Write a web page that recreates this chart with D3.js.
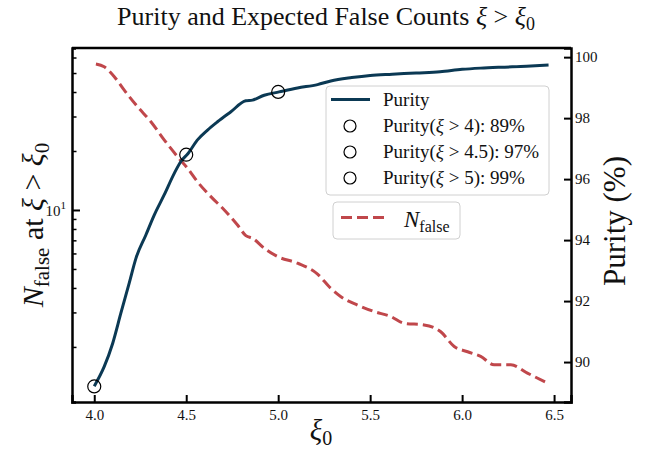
<!DOCTYPE html>
<html>
<head>
<meta charset="utf-8">
<script src="https://cdn.jsdelivr.net/npm/d3@7"></script>
<style>
  body { margin: 0; background: #fff; }
  svg text { font-family: "Liberation Serif", "DejaVu Serif", serif; fill: #111; }
</style>
</head>
<body>
<div id="chart"></div>
<script>
// purity curve (xi0, purity %)
var purityXi = [4.00, 4.054, 4.10, 4.145, 4.19, 4.227, 4.28, 4.326, 4.38, 4.435, 4.47, 4.51, 4.56, 4.616, 4.67, 4.743, 4.824, 4.86, 4.924, 5.005, 5.105, 5.214, 5.286, 5.40, 5.50, 5.62, 5.75, 5.88, 6.00, 6.10, 6.21, 6.35, 6.47];
var purityVal = [89.21, 89.85, 90.61, 91.61, 92.59, 93.41, 94.16, 94.82, 95.48, 96.19, 96.57, 96.84, 97.28, 97.61, 97.88, 98.21, 98.57, 98.59, 98.75, 98.86, 98.99, 99.10, 99.22, 99.33, 99.40, 99.44, 99.48, 99.52, 99.60, 99.64, 99.67, 99.70, 99.74];

// expected false counts (xi0, N_false)
var falseXi = [4.009, 4.054, 4.109, 4.163, 4.236, 4.308, 4.38, 4.453, 4.508, 4.562, 4.634, 4.707, 4.779, 4.824, 4.861, 4.924, 4.997, 5.105, 5.214, 5.286, 5.341, 5.432, 5.522, 5.612, 5.685, 5.793, 5.884, 5.957, 6.03, 6.101, 6.174, 6.265, 6.355, 6.455];
var falseVal = [55.6, 53.8, 47.9, 40.9, 33.6, 28.2, 22.8, 18.7, 16.3, 13.9, 11.7, 10.0, 8.38, 7.40, 7.17, 6.38, 5.78, 5.35, 4.71, 3.98, 3.61, 3.27, 3.03, 2.86, 2.64, 2.59, 2.39, 2.01, 1.89, 1.79, 1.62, 1.62, 1.47, 1.32];

// marked purity thresholds
var markXi = [4.0, 4.5, 5.0];
var markPurity = [89.2, 96.8, 98.86];
var markThr = ["4", "4.5", "5"];
var markLabel = ["89%", "97%", "99%"];

var xTicks = [4.0, 4.5, 5.0, 5.5, 6.0, 6.5];
var purityTicks = [90, 92, 94, 96, 98, 100];

var blue = "#0b3954", red = "#c0474b";

var W = 650, H = 452;
var margin = {top: 48, right: 79, bottom: 50, left: 72},
  width = W - margin.left - margin.right,
  height = H - margin.top - margin.bottom;

var svg = d3.select("#chart").append("svg")
  .attr("width", W).attr("height", H);

var g = svg.append("g")
  .attr("transform", "translate(" + margin.left + "," + margin.top + ")");

var x = d3.scaleLinear().domain([3.879, 6.592]).range([0, width]);
var yN = d3.scaleLog().domain([1.047, 67.1]).range([height, 0]);
var yP = d3.scaleLinear().domain([88.69, 100.3]).range([height, 0]);

var purity = purityXi.map((d, i) => ({x: d, y: purityVal[i]}));
var nfalse = falseXi.map((d, i) => ({x: d, y: falseVal[i]}));

// red dashed N_false
g.append("path")
  .datum(nfalse)
  .attr("fill", "none")
  .attr("stroke", red)
  .attr("stroke-width", 3)
  .attr("stroke-dasharray", "11,5")
  .attr("d", d3.line().curve(d3.curveMonotoneX).x(d => x(d.x)).y(d => yN(d.y)));

// purity line
g.append("path")
  .datum(purity)
  .attr("fill", "none")
  .attr("stroke", blue)
  .attr("stroke-width", 3)
  .attr("d", d3.line().curve(d3.curveMonotoneX).x(d => x(d.x)).y(d => yP(d.y)));

// markers
g.selectAll(".mark")
  .data(markXi)
  .enter().append("circle")
  .attr("cx", d => x(d))
  .attr("cy", (d, i) => yP(markPurity[i]))
  .attr("r", 6.5)
  .attr("fill", "none")
  .attr("stroke", "#000")
  .attr("stroke-width", 1.2);

// axes
var xAxis = g.append("g")
  .attr("transform", "translate(0," + height + ")")
  .call(d3.axisBottom(x).tickValues(xTicks).tickFormat(d3.format(".1f")).tickSize(-7).tickPadding(7.5));

var logTicks = yN.ticks();
var isMajor = d => Math.abs(Math.log10(d) - Math.round(Math.log10(d))) < 1e-9;
var leftAxis = g.append("g")
  .call(d3.axisLeft(yN).tickValues(logTicks).tickFormat("").tickSize(-4));
leftAxis.selectAll(".tick line")
  .attr("x2", d => isMajor(d) ? 8 : 4.5)
  .attr("stroke-width", d => isMajor(d) ? 2 : 1.5);

var rightAxis = g.append("g")
  .attr("transform", "translate(" + width + ",0)")
  .call(d3.axisRight(yP).tickValues(purityTicks).tickSize(-7).tickPadding(4));

[xAxis, leftAxis, rightAxis].forEach(function (a) {
  a.select(".domain").attr("stroke", "#000").attr("stroke-width", 2.5);
  a.selectAll(".tick text").style("font-size", "15px")
    .style("font-family", "\"Liberation Serif\", serif").attr("fill", "#111");
});
xAxis.selectAll(".tick line").attr("stroke-width", 2);
rightAxis.selectAll(".tick line").attr("stroke-width", 2);

// top border
g.append("line").attr("x1", 0).attr("x2", width).attr("y1", 0).attr("y2", 0)
  .attr("stroke", "#000").attr("stroke-width", 2.5);

// 10^1 label
var lbl = g.append("text")
  .attr("x", -6).attr("y", yN(10) + 6)
  .attr("text-anchor", "end")
  .style("font-size", "15px");
lbl.append("tspan").text("10");
lbl.append("tspan").attr("dy", -7).style("font-size", "11px").text("1");

// title
var title = svg.append("text")
  .attr("x", 326).attr("y", 25)
  .attr("text-anchor", "middle")
  .style("font-size", "26px");
title.append("tspan").text("Purity and Expected False Counts ");
title.append("tspan").style("font-style", "italic").text("ξ");
title.append("tspan").text(" > ");
title.append("tspan").style("font-style", "italic").text("ξ");
title.append("tspan").attr("dy", 5).style("font-size", "18px").text("0");

// x label
var xl = svg.append("text")
  .attr("x", 321).attr("y", 440)
  .attr("text-anchor", "middle")
  .style("font-size", "29px");
xl.append("tspan").style("font-style", "italic").text("ξ");
xl.append("tspan").attr("dy", 5).style("font-size", "20px").text("0");

// left y label
var yl = svg.append("text")
  .attr("transform", "translate(43," + (margin.top + height / 2) + ") rotate(-90)")
  .attr("text-anchor", "middle")
  .style("font-size", "30px");
yl.append("tspan").style("font-style", "italic").text("N");
yl.append("tspan").attr("dy", 6).style("font-size", "21px").text("false");
yl.append("tspan").attr("dy", -6).text(" at ");
yl.append("tspan").style("font-style", "italic").text("ξ");
yl.append("tspan").text(" > ");
yl.append("tspan").style("font-style", "italic").text("ξ");
yl.append("tspan").attr("dy", 6).style("font-size", "21px").text("0");

// right y label
svg.append("text")
  .attr("transform", "translate(625,221) rotate(-90)")
  .attr("text-anchor", "middle")
  .style("font-size", "31px")
  .text("Purity (%)");

// legend 1
var leg = svg.append("g");
leg.append("rect")
  .attr("x", 326).attr("y", 86).attr("width", 223).attr("height", 109)
  .attr("rx", 4).attr("fill", "#fff").attr("fill-opacity", 0.85)
  .attr("stroke", "#d0d0d0").attr("stroke-width", 1);
leg.append("line")
  .attr("x1", 331).attr("x2", 370).attr("y1", 99.5).attr("y2", 99.5)
  .attr("stroke", blue).attr("stroke-width", 3);
leg.append("text").attr("x", 383).attr("y", 105.5).style("font-size", "19px").text("Purity");

markThr.forEach(function (t, i) {
  var cy = 126 + i * 26;
  leg.append("circle").attr("cx", 350).attr("cy", cy).attr("r", 6)
    .attr("fill", "none").attr("stroke", "#000").attr("stroke-width", 1.2);
  var tx = leg.append("text").attr("x", 383).attr("y", cy + 6).style("font-size", "19px");
  tx.append("tspan").text("Purity(");
  tx.append("tspan").style("font-style", "italic").text("ξ");
  tx.append("tspan").text(" > " + t + "): " + markLabel[i]);
});

// legend 2
var leg2 = svg.append("g");
leg2.append("rect")
  .attr("x", 333).attr("y", 202).attr("width", 127).attr("height", 37)
  .attr("rx", 4).attr("fill", "#fff").attr("fill-opacity", 0.85)
  .attr("stroke", "#d0d0d0").attr("stroke-width", 1);
leg2.append("line")
  .attr("x1", 341).attr("x2", 386).attr("y1", 217.5).attr("y2", 217.5)
  .attr("stroke", red).attr("stroke-width", 3).attr("stroke-dasharray", "11,5");
var nt = leg2.append("text").attr("x", 404).attr("y", 227).style("font-size", "23px");
nt.append("tspan").style("font-style", "italic").text("N");
nt.append("tspan").attr("dy", 5).style("font-size", "16px").text("false");
</script>
</body>
</html>
